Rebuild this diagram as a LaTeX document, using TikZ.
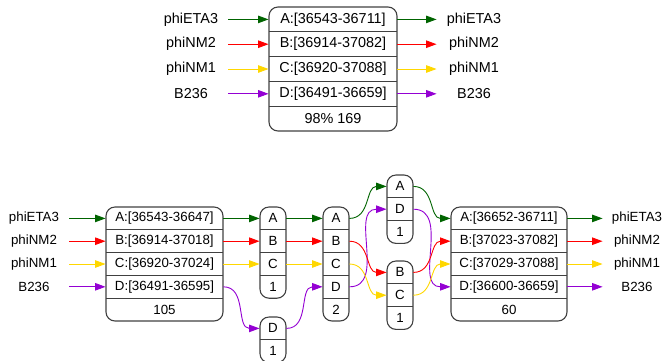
\documentclass[tikz,border=0pt]{standalone}
\usepackage{fontspec}
\setmainfont{Liberation Sans}
\usetikzlibrary{arrows.meta}

\definecolor{cA}{HTML}{006400}
\definecolor{cB}{HTML}{FF0000}
\definecolor{cC}{HTML}{FFD700}
\definecolor{cD}{HTML}{9400D3}

\begin{document}
\begin{tikzpicture}[
    x=1pt, y=-1pt,
    line width = 0.9pt,
    field/.style={inner sep=0pt, minimum width=#1},
    lbl/.style={inner sep=0pt, minimum width=#1},
    recbox/.style={line width=1.1pt, black!75, rounded corners=9pt},
    sep/.style={line width=1.1pt, black!75},
    edge/.style={line width=0.9pt, -{Triangle[length=10.5pt,width=7.5pt]}},
    swing/.style={out=0, in=180, looseness=1.1}
    ]

    % Determines the boundries
    \useasboundingbox (0,0) rectangle (666,360);

    % record: name, left, right, top, rows, fields
    \def\rec#1#2#3#4#5#6{
        \draw[recbox] (#2,#4) rectangle (#3,{#4+\rh*#5});
        \foreach \k/\t [count=\i] in {#6}{
            \node[field=#3-#2] (#1\k) at ({(#2+#3)/2},{#4+\rh*(\i-0.5)}) {\t};
            \ifnum\i>1 \draw[sep] (#2,{#4+\rh*(\i-1)}) -- (#3,{#4+\rh*(\i-1)}); \fi
        }
    }

    % Merged block
    \begin{scope}[font=\fontsize{14.4}{17}\selectfont]
        \def\rh{24.8}
        \rec{T}{269}{397}{7}{5}{A/{A:[36543-36711]},B/{B:[36914-37082]},C/{C:[36920-37088]},D/{D:[36491-36659]},n/{98\% 169}}

        \foreach \k/\c/\t [count=\i] in {A/cA/phiETA3, B/cB/phiNM2, C/cC/phiNM1, D/cD/B236}{
            \node[lbl=74] (Tin\k) at (191,{7+\rh*(\i-0.5)}) {\t};
            \node[lbl=74] (Tout\k) at (474,{7+\rh*(\i-0.5)}) {\t};
            \draw[edge, \c] (Tin\k.east) -- (T\k.west);
            \draw[edge, \c] (T\k.east) -- (Tout\k.west);
        }
    \end{scope}

    % Split blocks
    \begin{scope}[font=\fontsize{13.3}{16}\selectfont]
        \def\rh{22.8}
        \rec{P}{106}{223}{207}{5}{A/{A:[36543-36647]},B/{B:[36914-37018]},C/{C:[36920-37024]},D/{D:[36491-36595]},n/105}
        \rec{Q}{260}{286}{207}{4}{A/A,B/B,C/C,n/1}
        \rec{R}{260}{286}{317}{2}{D/D,n/1}
        \rec{S}{323}{349}{207}{5}{A/A,B/B,C/C,D/D,n/2}
        \rec{U}{387}{413}{175}{3}{A/A,D/D,n/1}
        \rec{V}{387}{413}{261}{3}{B/B,C/C,n/1}
        \rec{W}{451}{567}{207}{5}{A/{A:[36652-36711]},B/{B:[37023-37082]},C/{C:[37029-37088]},D/{D:[36600-36659]},n/60}

        \foreach \k/\c/\t [count=\i] in {A/cA/phiETA3, B/cB/phiNM2, C/cC/phiNM1, D/cD/B236}{
            \node[lbl=70] (Pin\k) at (34,{207+\rh*(\i-0.5)}) {\t};
            \node[lbl=68] (Wout\k) at (637,{207+\rh*(\i-0.5)}) {\t};
            \draw[edge, \c] (Pin\k.east) -- (P\k.west);
            \draw[edge, \c] (W\k.east) -- (Wout\k.west);
        }

        \foreach \k/\c in {A/cA, B/cB, C/cC}{
            \draw[edge, \c] (P\k.east) -- (Q\k.west);
            \draw[edge, \c] (Q\k.east) -- (S\k.west);
        }

        \draw[edge, cD] (PD.east) to[swing] (RD.west);
        \draw[edge, cD] (RD.east) to[swing] (SD.west);
        \draw[edge, cA] (SA.east) to[swing] (UA.west);
        \draw[edge, cD] (SD.east) to[swing] (UD.west);
        \draw[edge, cB] (SB.east) to[swing] (VB.west);
        \draw[edge, cC] (SC.east) to[swing] (VC.west);
        \draw[edge, cA] (UA.east) to[swing] (WA.west);
        \draw[edge, cD] (UD.east) to[swing] (WD.west);
        \draw[edge, cB] (VB.east) to[swing] (WB.west);
        \draw[edge, cC] (VC.east) to[swing] (WC.west);
    \end{scope}

\end{tikzpicture}
\end{document}
